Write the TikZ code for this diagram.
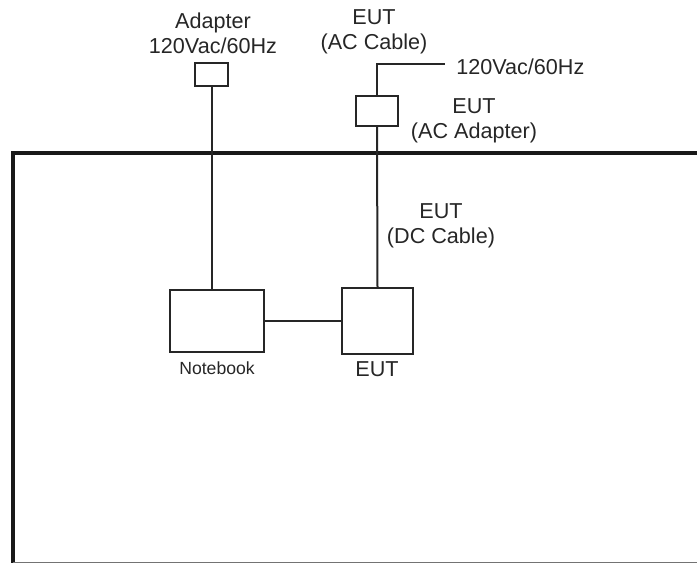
\documentclass[tikz,border=0pt]{standalone}
\usepackage{fontspec}
\setmainfont{Liberation Sans}
\begin{document}
\begin{tikzpicture}[x=0.75pt,y=-0.75pt,
  wire/.style={line width=1.5pt,black!85},
  box/.style={draw=black!85,line width=1.5pt,fill=white,inner sep=0pt},
  lbl/.style={font=\fontsize{16.2}{19}\selectfont,align=center,inner sep=0pt,text=black!85},
  small/.style={font=\fontsize{13.2}{16}\selectfont,inner sep=0pt,text=black!85}]
\useasboundingbox (0,0) rectangle (697,563);
% frame
\draw[line width=3pt,black!90] (13,563) -- (13,153) -- (697,153);
\draw[line width=1pt,black!55] (13,562.5) -- (697,562.5);
% boxes
\node[box,minimum width=33*0.75pt,minimum height=23*0.75pt] (adp) at (211.5,74.5) {};
\node[box,minimum width=42*0.75pt,minimum height=30*0.75pt] (acadp) at (377,111) {};
\node[box,minimum width=94*0.75pt,minimum height=62*0.75pt] (nb) at (217,321) {};
\node[box,minimum width=71*0.75pt,minimum height=66*0.75pt] (eut) at (377.5,321) {};
\coordinate (bend) at (377,64);
\coordinate (acend) at (445,64);
% wires
\draw[wire] (adp.south) -- (adp.south |- nb.north);
\draw[wire] (eut.north) -- (acadp.south);
\draw[wire] (acadp.north) -- (bend) -- (acend);
\draw[wire] (nb.east) -- (eut.west);
% labels
\node[lbl] (tadp) at (213,33) {Adapter\\120Vac/60Hz};
\node[lbl] (tcab) at (374,32) {EUT\\(AC Cable)};
\node[lbl,anchor=west] (tpow) at (456,67) {120Vac/60Hz};
\node[lbl] (tacadp) at (474,121) {EUT\\(AC Adapter)};
\node[lbl] (tdc) at (441,226) {EUT\\(DC Cable)};
\node[small] (tnb) at (217,368) {Notebook};
\node[lbl] (teut) at (377,369) {EUT};
\end{tikzpicture}
\end{document}
